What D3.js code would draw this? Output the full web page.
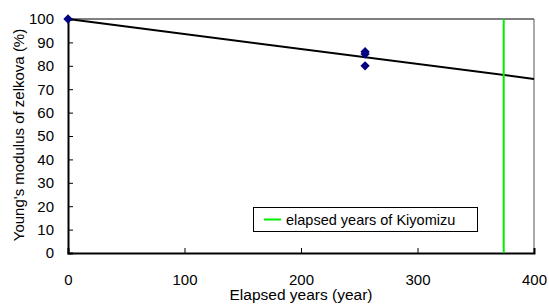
<!DOCTYPE html>
<html><head><meta charset="utf-8">
<script src="https://cdn.jsdelivr.net/npm/d3@7"></script>
<style>body{margin:0;background:#fff}svg{display:block}text{font-family:"Liberation Sans",Arial,sans-serif}</style>
</head><body><svg id="c" width="549" height="304"></svg>
<script>
const years = [0, 255, 255, 255];
const modulus = [100, 86, 85, 80];
const trendYears = [0, 400];
const trendValues = [100, 74.4];
const kiyomizuYears = 374;
const xTicks = [0, 100, 200, 300, 400];
const yTicks = [0,10,20,30,40,50,60,70,80,90,100];
const legendLabel = "elapsed years of Kiyomizu";

const svg = d3.select("#c");
const m = {l:68, r:534, t:19, b:253};
const x = d3.scaleLinear().domain([0,400]).range([m.l, m.r]);
const y = d3.scaleLinear().domain([0,100]).range([m.b, m.t]);

// frame top/right
svg.append("line").attr("x1",m.l).attr("x2",m.r).attr("y1",m.t).attr("y2",m.t).attr("stroke","#000").attr("stroke-width",1);
svg.append("line").attr("x1",m.r).attr("x2",m.r).attr("y1",m.t).attr("y2",m.b).attr("stroke","#555").attr("stroke-width",1);

// y axis
const ya = d3.axisLeft(y).tickValues(yTicks).tickSize(-5).tickPadding(14);
const gy = svg.append("g").attr("transform",`translate(${m.l},0)`).call(ya);
gy.select(".domain").attr("stroke","#000").attr("stroke-width",2);
gy.selectAll(".tick line").attr("stroke","#000");
gy.selectAll("text").attr("font-size",15).attr("fill","#000").attr("font-family","Liberation Sans, Arial");

// x axis
const xa = d3.axisBottom(x).tickValues(xTicks).tickSize(-5).tickPadding(21);
const gx = svg.append("g").attr("transform",`translate(0,${m.b})`).call(xa);
gx.select(".domain").attr("stroke","#000").attr("stroke-width",2);
gx.selectAll(".tick line").attr("stroke","#000");
gx.selectAll("text").attr("font-size",15).attr("fill","#000").attr("font-family","Liberation Sans, Arial");

// trend line
svg.append("line").attr("x1",x(trendYears[0])).attr("y1",y(trendValues[0]))
  .attr("x2",x(trendYears[1])).attr("y2",y(trendValues[1])).attr("stroke","#000").attr("stroke-width",2);

// kiyomizu line
svg.append("line").attr("x1",x(kiyomizuYears)).attr("x2",x(kiyomizuYears)).attr("y1",m.t).attr("y2",m.b)
  .attr("stroke","#00ee00").attr("stroke-width",2);

// points
svg.selectAll(".pt").data(years.map((d,i)=>[d,modulus[i]])).enter().append("path")
  .attr("d", d3.symbol().type(d3.symbolDiamond2).size(55))
  .attr("transform", d=>`translate(${x(d[0])},${y(d[1])})`)
  .attr("fill","#000080");

// legend
const lg = svg.append("g");
lg.append("rect").attr("x",253.5).attr("y",207.5).attr("width",224).attr("height",24).attr("fill","#fff").attr("stroke","#000");
lg.append("line").attr("x1",264).attr("x2",281).attr("y1",219.5).attr("y2",219.5).attr("stroke","#00ee00").attr("stroke-width",2);
lg.append("text").attr("x",286).attr("y",224.5).attr("font-size",14.5).text(legendLabel);

// axis titles
svg.append("text").attr("x",301).attr("y",300).attr("text-anchor","middle").attr("font-size",15.5).text("Elapsed years (year)");
svg.append("text").attr("transform","translate(24,135) rotate(-90)").attr("text-anchor","middle").attr("font-size",15).text("Young's modulus of zelkova (%)");
</script></body></html>
